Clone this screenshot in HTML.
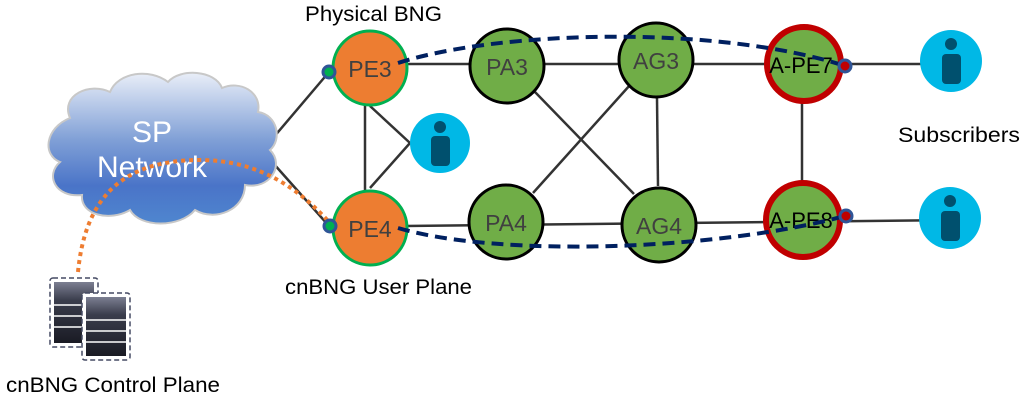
<!DOCTYPE html>
<html><head><meta charset="utf-8"><style>
body{margin:0;background:#fff;}
svg{display:block;font-family:"Liberation Sans",Arial,sans-serif;}
</style></head><body>
<svg width="1025" height="400" viewBox="0 0 1025 400">
<defs>
<linearGradient id="cg" x1="0" y1="0" x2="0" y2="1">
<stop offset="0" stop-color="#e9eef8"/><stop offset="0.45" stop-color="#7f9fd6"/><stop offset="0.75" stop-color="#4a74c8"/><stop offset="1" stop-color="#4f86cf"/>
</linearGradient>
<linearGradient id="sg" x1="0" y1="0" x2="0" y2="1">
<stop offset="0" stop-color="#7c7f92"/><stop offset="0.3" stop-color="#3a3d4c"/><stop offset="1" stop-color="#1a1b24"/>
</linearGradient>
</defs>
<g stroke="#333" stroke-width="2.5" fill="none">
<line x1="273" y1="138" x2="329" y2="72"/>
<line x1="273" y1="163" x2="329" y2="226"/>
<line x1="365" y1="100" x2="365" y2="192"/>
<line x1="370" y1="106" x2="410" y2="143"/>
<line x1="370" y1="188" x2="410" y2="143"/>
<line x1="405" y1="64" x2="960" y2="64"/>
<line x1="405" y1="226" x2="960" y2="220"/>
<line x1="535" y1="92" x2="634" y2="194"/>
<line x1="630" y1="85" x2="533" y2="193"/>
<line x1="657" y1="98" x2="658" y2="186"/>
<line x1="802" y1="100" x2="802" y2="185"/>
</g>
<g fill="url(#cg)" stroke="#c8c8c8" stroke-width="2">
<path d="M70,118 C60,95 90,82 110,92 C118,72 150,68 168,82 C180,68 215,70 222,88 C240,80 262,92 258,112 C278,115 282,140 270,150 C285,165 270,190 245,185 C245,210 215,222 195,210 C180,228 140,228 130,210 C110,222 80,215 82,195 C55,198 45,175 60,162 C42,155 45,128 70,118 Z"/>
</g>
<text x="152" y="142" font-size="30" fill="#fff" text-anchor="middle">SP</text>
<text x="152" y="177" font-size="30" fill="#fff" text-anchor="middle">Network</text>
<path d="M78,272 C85,200 120,160 200,160 C260,160 300,190 329,222" fill="none" stroke="#ee7d31" stroke-width="4" stroke-dasharray="4,4"/>
<rect x="50" y="278" width="48" height="69" rx="3" fill="none" stroke="#454a63" stroke-width="1.5" stroke-dasharray="5,3"/>
<rect x="54" y="282" width="40" height="61" fill="url(#sg)"/>
<line x1="54" y1="305" x2="94" y2="305" stroke="#fff" stroke-width="1.5"/>
<line x1="54" y1="316" x2="94" y2="316" stroke="#fff" stroke-width="1.5"/>
<line x1="54" y1="327" x2="94" y2="327" stroke="#fff" stroke-width="1.5"/>
<rect x="82" y="293" width="48" height="67" rx="3" fill="#fff" stroke="#454a63" stroke-width="1.5" stroke-dasharray="5,3"/>
<rect x="86" y="297" width="40" height="59" fill="url(#sg)"/>
<line x1="86" y1="320" x2="126" y2="320" stroke="#fff" stroke-width="1.5"/>
<line x1="86" y1="331" x2="126" y2="331" stroke="#fff" stroke-width="1.5"/>
<line x1="86" y1="342" x2="126" y2="342" stroke="#fff" stroke-width="1.5"/>
<g stroke-width="3">
<circle cx="370" cy="68" r="37" fill="#ed7d31" stroke="#00b050"/>
<circle cx="370" cy="228" r="37" fill="#ed7d31" stroke="#00b050"/>
<circle cx="507" cy="66" r="37" fill="#70ad47" stroke="#000"/>
<circle cx="656" cy="60" r="37" fill="#70ad47" stroke="#000"/>
<circle cx="506" cy="222" r="37" fill="#70ad47" stroke="#000"/>
<circle cx="659" cy="225" r="37" fill="#70ad47" stroke="#000"/>
</g>
<circle cx="804" cy="64" r="37" fill="#70ad47" stroke="#c00000" stroke-width="6"/>
<circle cx="803" cy="220" r="37" fill="#70ad47" stroke="#c00000" stroke-width="6"/>
<g font-size="23" fill="#404040" text-anchor="middle">
<text x="370" y="77">PE3</text>
<text x="370" y="237">PE4</text>
<text x="507" y="75">PA3</text>
<text x="656" y="69">AG3</text>
<text x="506" y="231">PA4</text>
<text x="659" y="234">AG4</text>
</g>
<g font-size="22" fill="#000" text-anchor="middle">
<text x="801" y="73">A-PE7</text>
<text x="801" y="228">A-PE8</text>
</g>
<path d="M398,63 C500,30 720,25 845,66" fill="none" stroke="#002060" stroke-width="4" stroke-dasharray="12,7"/>
<path d="M398,228 C500,258 720,250 845,216" fill="none" stroke="#002060" stroke-width="4" stroke-dasharray="12,7"/>
<g stroke="#2f5597" stroke-width="3">
<circle cx="329" cy="72" r="6" fill="#00b050"/>
<circle cx="330" cy="226" r="6" fill="#00b050"/>
<circle cx="845" cy="66" r="6" fill="#c00000"/>
<circle cx="846" cy="216" r="6" fill="#c00000"/>
</g>
<g>
<circle cx="440" cy="143" r="30" fill="#00b8e6"/>
<circle cx="440" cy="127" r="6" fill="#00506e"/>
<rect x="431" y="136" width="19" height="30" rx="4" fill="#00506e"/>
<circle cx="951" cy="61" r="31" fill="#00b8e6"/>
<circle cx="951" cy="44" r="6" fill="#00506e"/>
<rect x="942" y="54" width="19" height="30" rx="4" fill="#00506e"/>
<circle cx="950" cy="218" r="31" fill="#00b8e6"/>
<circle cx="950" cy="201" r="6" fill="#00506e"/>
<rect x="941" y="211" width="19" height="30" rx="4" fill="#00506e"/>
</g>
<g font-size="21" fill="#000">
<text x="305" y="21" textLength="137" lengthAdjust="spacingAndGlyphs">Physical BNG</text>
<text x="285" y="294" textLength="187" lengthAdjust="spacingAndGlyphs">cnBNG User Plane</text>
<text x="6" y="392" textLength="214" lengthAdjust="spacingAndGlyphs">cnBNG Control Plane</text>
<text x="898" y="142" textLength="122" lengthAdjust="spacingAndGlyphs">Subscribers</text>
</g>
</svg>
</body></html>
